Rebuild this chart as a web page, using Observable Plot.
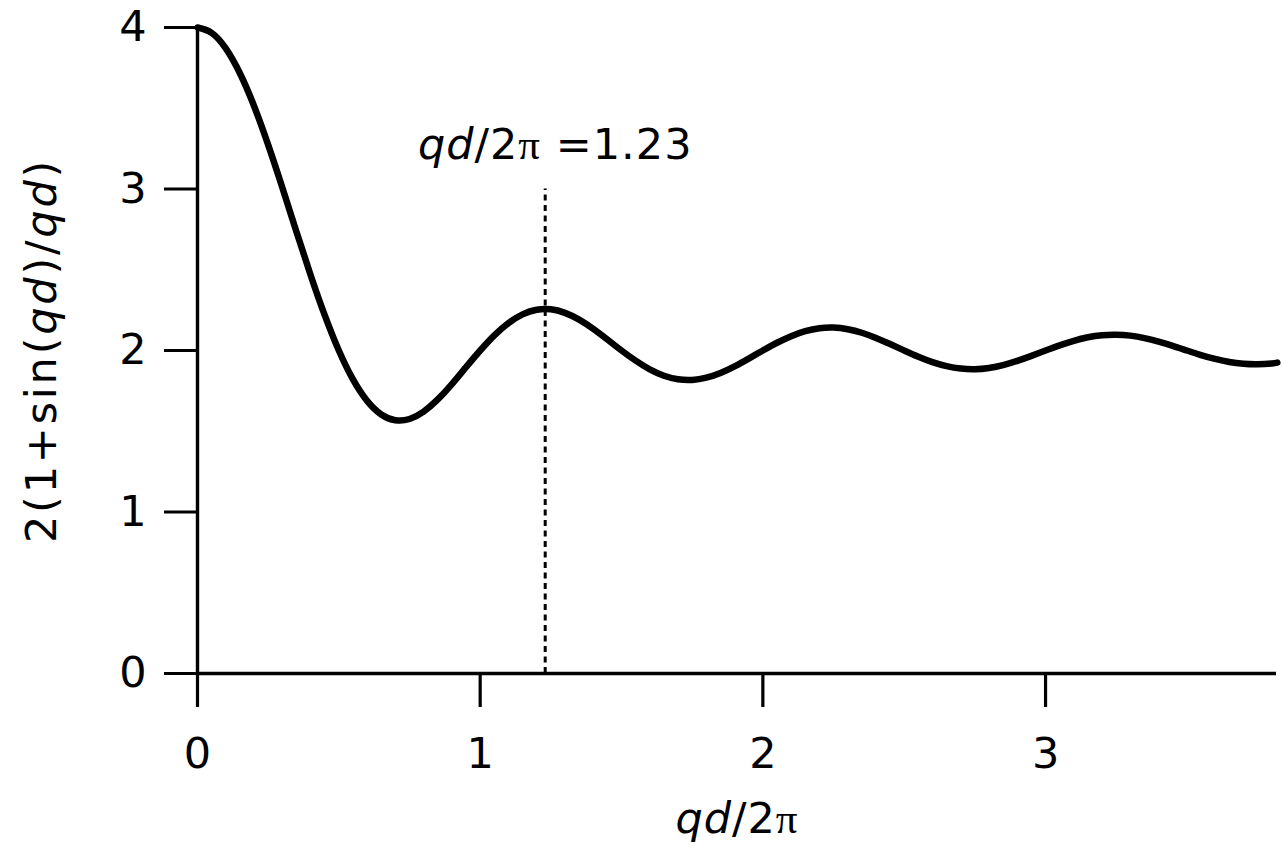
<!DOCTYPE html>
<html><head><meta charset="utf-8">
<script src="https://cdn.jsdelivr.net/npm/d3@7"></script>
<script src="https://cdn.jsdelivr.net/npm/@observablehq/plot@0.6"></script>
<style>body{margin:0;background:#fff} svg{display:block}</style>
</head><body><div id="chart"></div>
<script>
const xValues = [0.00,0.05,0.10,0.15,0.20,0.25,0.30,0.35,0.40,0.45,0.50,
  0.55,0.60,0.65,0.70,0.75,0.80,0.85,0.90,0.95,1.00,
  1.05,1.10,1.15,1.20,1.25,1.30,1.35,1.40,1.45,1.50,
  1.55,1.60,1.65,1.70,1.75,1.80,1.85,1.90,1.95,2.00,
  2.05,2.10,2.15,2.20,2.25,2.30,2.35,2.40,2.45,2.50,
  2.55,2.60,2.65,2.70,2.75,2.80,2.85,2.90,2.95,3.00,
  3.05,3.10,3.15,3.20,3.25,3.30,3.35,3.40,3.45,3.50,
  3.55,3.60,3.65,3.70,3.75,3.80,3.82];
const yValues = [4.000,3.967,3.871,3.717,3.514,3.273,3.009,2.736,2.468,2.219,2.000,
  1.821,1.688,1.604,1.568,1.576,1.622,1.697,1.792,1.897,2.000,
  2.094,2.170,2.224,2.252,2.255,2.233,2.191,2.134,2.068,2.000,
  1.937,1.883,1.844,1.822,1.818,1.832,1.861,1.902,1.950,2.000,
  2.048,2.089,2.120,2.138,2.142,2.132,2.110,2.078,2.040,2.000,
  1.961,1.928,1.903,1.888,1.884,1.892,1.910,1.936,1.967,2.000,
  2.032,2.060,2.082,2.095,2.098,2.092,2.077,2.055,2.029,2.000,
  1.972,1.948,1.929,1.918,1.915,1.920,1.925];
const xTicks = [0, 1, 2, 3];
const yTicks = [0, 1, 2, 3, 4];
const markerX = 1.23;
const markerTop = 3;
const markerLabel = "qd/2π =1.23";
const xLabel = "qd/2π";
const yLabel = "2(1+sin(qd)/qd)";

const data = xValues.map((x, i) => ({x, y: yValues[i]}));
const FS = 43;

const chart = Plot.plot({
  width: 1282, height: 846,
  marginLeft: 197, marginRight: 6, marginTop: 27, marginBottom: 173,
  style: {fontFamily: "'DejaVu Sans', Verdana, sans-serif", fontSize: FS + "px", background: "#fff", color: "#000"},
  x: {domain: [0, 3.817], label: null},
  y: {domain: [0, 4], label: null},
  marks: [
    Plot.axisX(xTicks, {tickSize: 34, tickPadding: 30, strokeWidth: 3.2, fontSize: FS, label: null, tickFormat: d => String(d)}),
    Plot.axisY(yTicks, {tickSize: 33, tickPadding: 18, strokeWidth: 3.2, fontSize: FS, label: null, tickFormat: d => String(d)}),
    Plot.ruleY([0], {strokeWidth: 3.4}),
    Plot.ruleX([0], {y1: 0, y2: 4, strokeWidth: 3.4}),
    Plot.ruleX([markerX], {y1: 0, y2: markerTop, strokeWidth: 3, strokeDasharray: "6,4.5"}),
    Plot.line(data, {x: "x", y: "y", curve: "natural", strokeWidth: 6.5, strokeLinejoin: "round"}),
    Plot.text([markerLabel], {x: () => markerX, y: () => markerTop, text: d => d, dx: 10, dy: -44, fontSize: FS, textAnchor: "middle"}),
    Plot.text([xLabel], {frameAnchor: "bottom", text: d => d, dy: 159, fontSize: FS, textAnchor: "middle"}),
    Plot.text([yLabel], {frameAnchor: "left", text: d => d, dx: -155, rotate: -90, fontSize: FS, textAnchor: "middle"})
  ]
});

function styleLabel(str, parts, spacing) {
  chart.querySelectorAll("text").forEach(t => {
    if (t.textContent === str) {
      t.textContent = "";
      if (spacing) t.setAttribute("letter-spacing", spacing);
      for (const [s, st] of parts) {
        const ts = document.createElementNS("http://www.w3.org/2000/svg", "tspan");
        ts.textContent = s;
        if (st === "i") ts.setAttribute("font-style", "italic");
        if (st === "s") { ts.setAttribute("font-family", "'Liberation Serif', 'DejaVu Serif', serif"); }
        t.appendChild(ts);
      }
    }
  });
}
styleLabel(markerLabel, [["qd","i"],["/2",""],["π","s"],[" =1.23",""]], "1");
styleLabel(xLabel, [["qd","i"],["/2",""],["π","s"]], "1");
styleLabel(yLabel, [["2(1+sin(",""],["qd","i"],[")/",""],["qd","i"],[")",""]], "2.8");

document.getElementById("chart").appendChild(chart);
</script>
</body></html>
